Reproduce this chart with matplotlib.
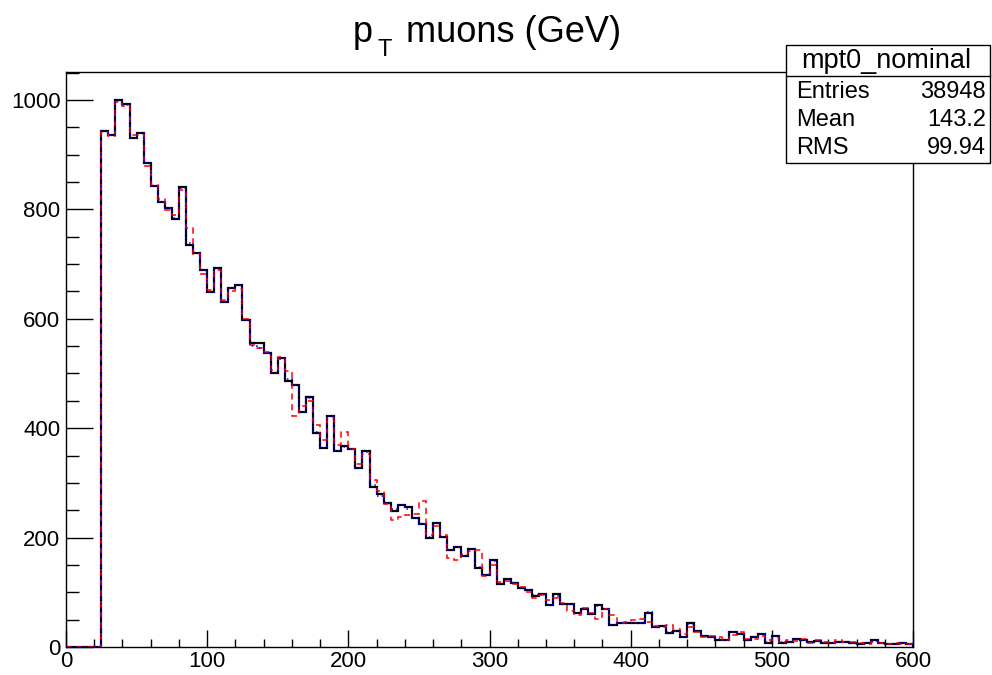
import numpy as np
import matplotlib
matplotlib.use("Agg")
import matplotlib.pyplot as plt
from matplotlib.patches import Rectangle
from matplotlib.lines import Line2D
from matplotlib.ticker import MultipleLocator

plt.rcParams['font.family'] = ['Liberation Sans', 'DejaVu Sans']

# muon pT histograms, 5 GeV bins from 0 to 600 GeV
bin_edges = np.arange(0, 605, 5)

nominal = [
    0, 0, 0, 0, 0,
    944, 936, 999, 993, 930, 940, 884, 843, 813, 802, 783, 840, 735, 720, 689,
    648, 693, 630, 656, 662, 597, 556, 556, 537, 501, 528, 486, 479, 429, 457,
    392, 363, 423, 358, 367,
    361, 327, 358, 293, 280, 264, 249, 259, 255, 235, 224, 200, 227, 201, 177,
    182, 166, 180, 144, 131,
    159, 115, 124, 117, 108, 104, 94, 96, 76, 96, 78, 78, 62, 70, 60,
    76, 69, 41, 44, 44,
    43, 44, 63, 37, 39, 26, 30, 19, 44, 30, 21, 18, 13, 13, 28,
    24, 13, 18, 23, 8,
    21, 8, 9, 14, 13, 10, 11, 8, 8, 10, 10, 8, 5, 7, 12,
    7, 6, 5, 7, 5,
]

variation_up = [
    0, 0, 0, 0, 0,
    942, 934, 996, 988, 935, 935, 880, 845, 818, 798, 790, 835, 766, 718, 682,
    652, 690, 634, 650, 655, 600, 552, 546, 540, 506, 530, 505, 423, 440, 450,
    405, 378, 418, 370, 393,
    362, 335, 352, 306, 285, 262, 232, 238, 242, 244, 266, 205, 222, 205, 162,
    159, 170, 176, 177, 130,
    150, 118, 120, 115, 110, 100, 90, 95, 86, 90, 80, 65, 58, 72, 62,
    52, 70, 59, 44, 46,
    50, 52, 45, 38, 36, 41, 32, 24, 37, 28, 19, 20, 19, 12, 22,
    28, 15, 14, 20, 12,
    16, 10, 12, 11, 15, 8, 13, 10, 7, 12, 9, 10, 7, 6, 9,
    8, 5, 7, 5, 6,
]

variation_down = [
    0, 0, 0, 0, 0,
    944, 936, 998, 990, 931, 940, 884, 842, 814, 802, 784, 839, 738, 720, 689,
    648, 692, 630, 656, 661, 597, 550, 546, 537, 501, 527, 490, 479, 430, 456,
    393, 363, 422, 358, 366,
    361, 328, 357, 296, 276, 264, 252, 259, 252, 236, 224, 201, 227, 201, 178,
    182, 166, 180, 146, 131,
    158, 115, 124, 117, 108, 104, 95, 96, 77, 94, 78, 78, 62, 70, 60,
    75, 69, 41, 44, 44,
    43, 44, 64, 37, 39, 28, 30, 19, 42, 30, 21, 18, 15, 13, 27,
    24, 13, 18, 23, 9,
    20, 10, 9, 14, 13, 10, 11, 8, 8, 10, 10, 8, 5, 7, 11,
    7, 6, 5, 7, 5,
]

hist_name = "mpt0_nominal"
stats_labels = ["Entries", "Mean", "RMS"]
stats_values = ["38948", "143.2", "99.94"]

W, H = 992, 675
fig = plt.figure(figsize=(W / 100, H / 100), dpi=100)


def fx(x):
    return x / W


def fy(y):
    return 1 - y / H


ax = fig.add_axes([fx(66), fy(647), fx(913) - fx(66), fy(72) - fy(647)])

ax.stairs(nominal, bin_edges, color='black', linewidth=1.6, zorder=3)
ax.stairs(variation_up, bin_edges, color='red', linewidth=1.1,
          linestyle=(0, (4, 3)), zorder=4)
ax.stairs(variation_down, bin_edges, color='blue', linewidth=1.1,
          linestyle=(0, (1, 2)), zorder=5)

ax.set_xlim(0, 600)
ax.set_ylim(0, 1051)

ax.xaxis.set_major_locator(MultipleLocator(100))
ax.xaxis.set_minor_locator(MultipleLocator(20))
ax.yaxis.set_major_locator(MultipleLocator(200))
ax.yaxis.set_minor_locator(MultipleLocator(50))

ax.tick_params(axis='x', which='major', direction='in', length=12, width=1,
               labelsize=16, pad=3, top=False)
ax.tick_params(axis='x', which='minor', direction='in', length=6, width=1,
               top=False)
ax.tick_params(axis='y', which='major', direction='in', length=19.5, width=1,
               labelsize=16, pad=4, right=False)
ax.tick_params(axis='y', which='minor', direction='in', length=9.5, width=1,
               right=False)
for sp in ax.spines.values():
    sp.set_linewidth(1.0)

# title: p with subscript T, then the rest
fig.text(fx(353), fy(42), "p", ha='left', va='baseline', fontsize=26)
fig.text(fx(377), fy(56), "T", ha='left', va='baseline', fontsize=17)
fig.text(fx(406), fy(42), "muons (GeV)", ha='left', va='baseline',
         fontsize=26)

# stats box
box = Rectangle((fx(786), fy(163)), fx(990) - fx(786), fy(45) - fy(163),
                transform=fig.transFigure, facecolor='white',
                edgecolor='black', linewidth=1.0, zorder=10)
fig.add_artist(box)
fig.add_artist(Line2D([fx(786), fx(990)], [fy(76), fy(76)],
                      transform=fig.transFigure, color='black',
                      linewidth=1.0, zorder=11))
fig.text(fx(886), fy(61), hist_name, ha='center', va='center', fontsize=19.5,
         zorder=12)
for i, (lab, val) in enumerate(zip(stats_labels, stats_values)):
    y = fy(92 + 28 * i)
    fig.text(fx(796), y, lab, ha='left', va='center', fontsize=17, zorder=12)
    fig.text(fx(986), y, val, ha='right', va='center', fontsize=17,
             zorder=12)

fig.savefig("out.png", dpi=100)
